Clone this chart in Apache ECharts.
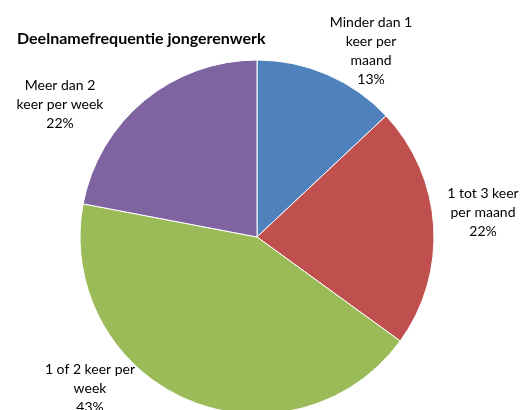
<!DOCTYPE html>
<html>
<head>
<meta charset="utf-8">
<script src="https://cdn.jsdelivr.net/npm/echarts@6/dist/echarts.min.js"></script>
<style>
  html, body { margin: 0; padding: 0; background: #fff; }
  #chart { width: 528px; height: 410px; }
</style>
</head>
<body>
<div id="chart"></div>
<script>
var categories = ['Minder dan 1 keer per maand', '1 tot 3 keer per maand', '1 of 2 keer per week', 'Meer dan 2 keer per week'];
var labelText = ['Minder dan 1\nkeer per\nmaand', '1 tot 3 keer\nper maand', '1 of 2 keer per\nweek', 'Meer dan 2\nkeer per week'];
var values = [13, 22, 43, 22];
var colors = ['#4F81BD', '#C0504D', '#9BBB59', '#8064A2'];
// label centres
var labelPos = [[371, 51], [483, 212], [90, 388], [60, 104]];

var chart = echarts.init(document.getElementById('chart'));
chart.setOption({
  animation: false,
  title: {
    text: 'Deelnamefrequentie jongerenwerk',
    left: 12, top: 26,
    textStyle: { fontFamily: 'Lato', fontSize: 16, fontWeight: 'bold', color: '#000' }
  },
  series: [{
    type: 'pie',
    center: [257, 237],
    radius: 177,
    startAngle: 90,
    clockwise: true,
    itemStyle: { borderColor: '#fff', borderWidth: 1 },
    labelLine: { show: false },
    label: {
      show: true,
      position: 'outside',
      alignTo: 'none',
      overflow: 'none',
      fontFamily: 'Lato',
      fontSize: 14,
      lineHeight: 19,
      color: '#000',
      align: 'center',
      formatter: function (p) {
        return labelText[p.dataIndex] + '\n' + Math.round(p.percent) + '%';
      }
    },
    labelLayout: function (p) {
      var pos = labelPos[p.dataIndex];
      return { x: pos[0], y: pos[1], align: 'center', verticalAlign: 'middle', hideOverlap: false };
    },
    data: categories.map(function (c, i) {
      return { name: c, value: values[i], itemStyle: { color: colors[i] } };
    })
  }]
});
</script>
</body>
</html>
